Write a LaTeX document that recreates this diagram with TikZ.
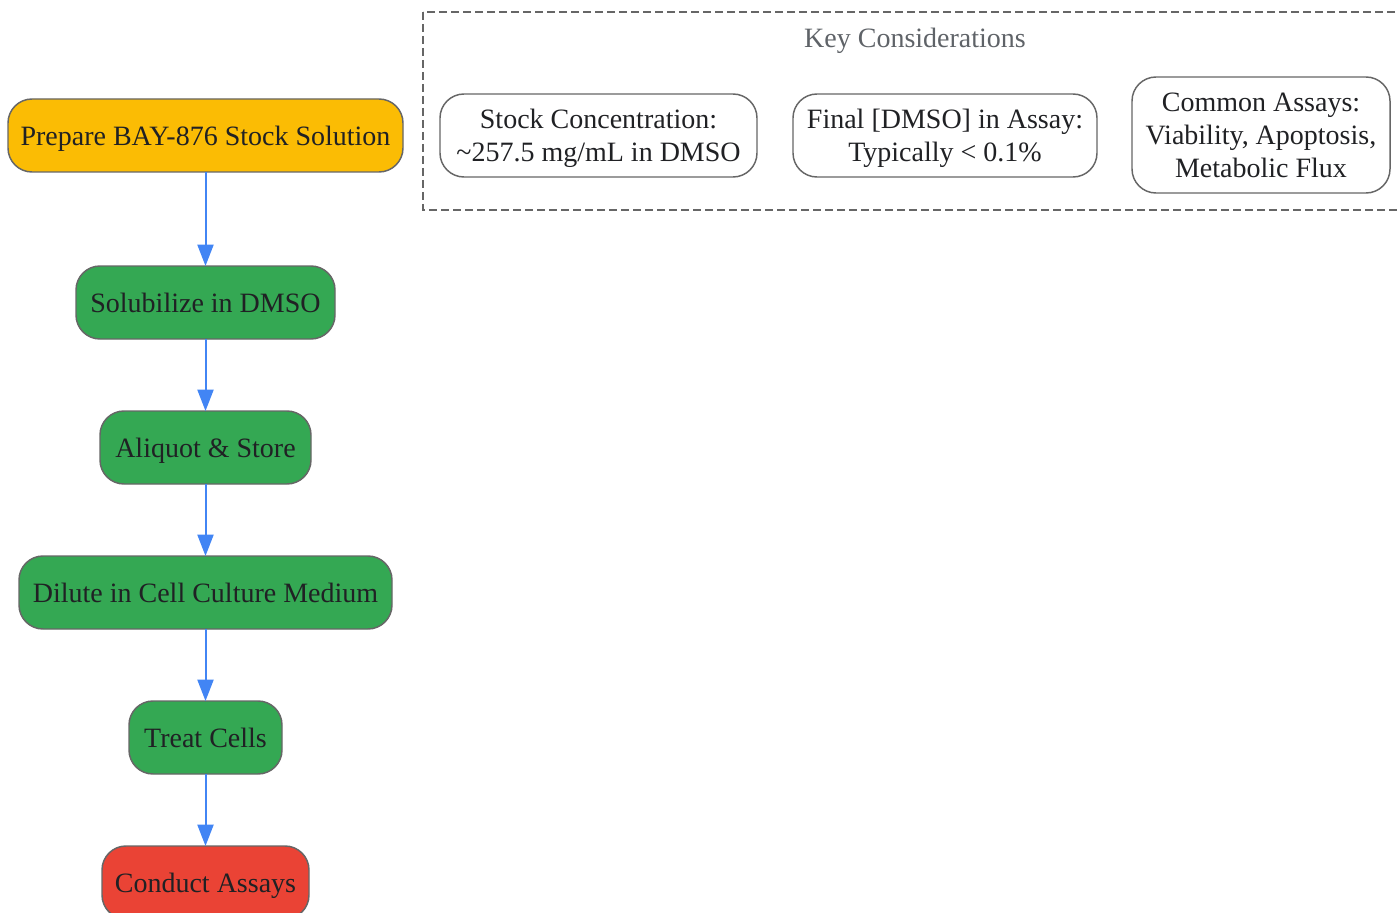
\documentclass[tikz,border=0pt]{standalone}
\usepackage{fontspec}
\setmainfont{Liberation Serif}
\usetikzlibrary{positioning,arrows.meta}

\definecolor{prepyellow}{HTML}{FBBC04}
\definecolor{stepgreen}{HTML}{34A853}
\definecolor{assayred}{HTML}{EA4335}
\definecolor{edgegray}{HTML}{666666}
\definecolor{flowblue}{HTML}{4285F4}
\definecolor{textdark}{HTML}{202124}
\definecolor{titlegray}{HTML}{5F6368}

\begin{document}
\begin{tikzpicture}[
  x = 0.75pt, y = -0.75pt,
  every node/.style = {font = \fontsize{21}{24.75}\selectfont, text = textdark, align = center,
                       text depth = 0pt},
  flowbox/.style = {draw = edgegray, line width = 1.1pt, rounded corners = 18pt,
                    minimum height = 54.75pt, inner sep = 0pt, outer sep = 0pt},
  notebox/.style = {draw = edgegray, fill = white, line width = 1.1pt, rounded corners = 18pt,
                    inner sep = 0pt},
  flow/.style = {color = flowblue, line width = 1.5pt, -{Triangle[width = 12pt, length = 16pt]}},
  ]
  \useasboundingbox (0,0) rectangle (1399,913);

  % left column
  \node[flowbox, fill = prepyellow, minimum width = 296.25pt] (prepare) at (205.5,135.5)
    {Prepare BAY-876 Stock Solution};
  \node[flowbox, fill = stepgreen, minimum width = 194.25pt, below = 70.5pt of prepare] (solubilize)
    {Solubilize in DMSO};
  \node[flowbox, fill = stepgreen, minimum width = 158.25pt, below = 54pt of solubilize] (aliquot)
    {Aliquot \& Store};
  \node[flowbox, fill = stepgreen, minimum width = 279.75pt, below = 54pt of aliquot] (dilute)
    {Dilute in Cell Culture Medium};
  \node[flowbox, fill = stepgreen, minimum width = 114.75pt, below = 54pt of dilute] (treat)
    {Treat Cells};
  \node[flowbox, fill = assayred, minimum width = 155.25pt, below = 54pt of treat] (conduct)
    {Conduct Assays};

  \draw[flow] (prepare) -- (solubilize);
  \draw[flow] (solubilize) -- (aliquot);
  \draw[flow] (aliquot) -- (dilute);
  \draw[flow] (dilute) -- (treat);
  \draw[flow] (treat) -- (conduct);

  % key considerations
  \draw[edgegray, line width = 1.1pt, dash pattern = on 6pt off 3pt] (423,12) rectangle (1407,210);
  \node[text = titlegray] (keytitle) at (915,38) {Key Considerations};
  \node[notebox, minimum width = 237.75pt, minimum height = 62.25pt] (stock) at (598.5,135.5)
    {Stock Concentration:\\\textasciitilde257.5 mg/mL in DMSO};
  \node[notebox, minimum width = 228pt, minimum height = 62.25pt] (final) at (945,135.5)
    {Final [DMSO] in Assay:\\Typically < 0.1\%};
  \node[notebox, minimum width = 193.5pt, minimum height = 87pt] (common) at (1261,135)
    {Common Assays:\\Viability, Apoptosis,\\Metabolic Flux};
\end{tikzpicture}
\end{document}
